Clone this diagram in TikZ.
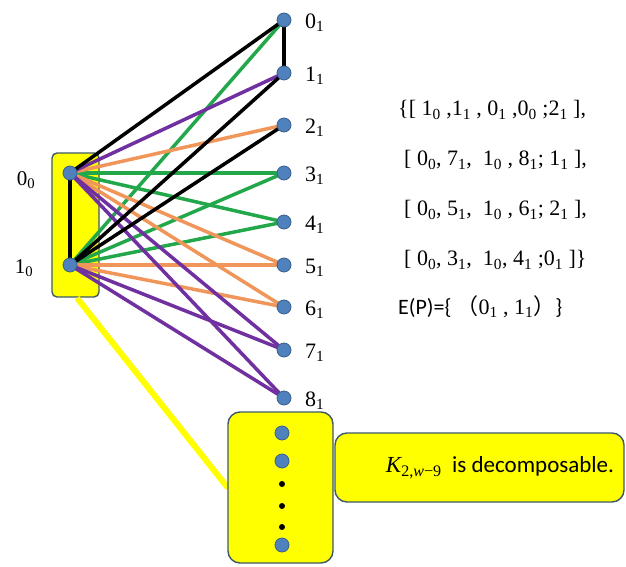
\documentclass[tikz,border=0pt]{standalone}
\usepackage{fontspec}
\setmainfont{Liberation Serif}
\newfontfamily\sansf{Carlito}
\newfontfamily\cjk{Noto Sans CJK SC}
\definecolor{gline}{RGB}{34,168,74}
\definecolor{pline}{RGB}{112,48,160}
\definecolor{oline}{RGB}{240,150,90}
\definecolor{nodefill}{RGB}{79,129,189}
\definecolor{nodeedge}{RGB}{58,95,140}
\definecolor{boxedge}{RGB}{60,90,105}
\definecolor{yel}{RGB}{255,255,0}
\newcommand\lb[2]{#1\textsubscript{#2}}
\tikzset{
  vtx/.style={circle,fill=nodefill,draw=nodeedge,line width=0.8pt,minimum size=14pt,inner sep=0pt},
  dotb/.style={circle,fill=black,minimum size=6pt,inner sep=0pt},
  ybox/.style={fill=yel,draw=boxedge,line width=1.4pt},
  edge/.style={line width=3.5pt},
  rlab/.style={anchor=west,font=\fontsize{22}{24}\selectfont,inner sep=0pt},
  llab/.style={font=\fontsize{21}{22}\selectfont,inner sep=0pt},
  ftxt/.style={anchor=west,font=\fontsize{22}{24}\selectfont,inner sep=0pt}
}
\begin{document}
\begin{tikzpicture}[x=1pt,y=-1pt]
\useasboundingbox (0,0) rectangle (626,567);
% boxes
\draw[ybox,rounded corners=5pt] (52,153) rectangle (99,297);
\draw[yel,line width=6pt] (77,298) coordinate (ya) -- (228,488) coordinate (yb);
\draw[ybox,rounded corners=12pt] (228,412) rectangle (333,563);
\draw[ybox,rounded corners=12pt] (335,433) rectangle (624,502);
\node[font=\sansf\fontsize{23}{26}\selectfont,inner sep=0pt] (kt) at (500,468) {{\rmfamily\itshape K}\textsubscript{\rmfamily 2,\itshape w\upshape −9}\ \ is decomposable.};
% vertex coordinates
\coordinate (a0) at (70,173);
\coordinate (a1) at (70,265);
\foreach \i/\y in {0/20,1/73,2/125,3/173,4/222,5/265,6/307,7/350,8/398}{
  \coordinate (b\i) at (284,\y);
}
% edges
\foreach \u/\v in {a1/b0,a0/b3,a0/b4,a1/b3,a1/b4}{\draw[edge,gline] (\u) -- (\v);}
\foreach \u/\v in {a0/b2,a0/b5,a0/b6,a1/b5,a1/b6}{\draw[edge,oline] (\u) -- (\v);}
\foreach \u/\v in {a0/b1,a0/b7,a0/b8,a1/b7,a1/b8}{\draw[edge,pline] (\u) -- (\v);}
\foreach \u/\v in {a0/b0,a1/b1,a1/b2,a0/a1,b0/b1}{\draw[edge,black] (\u) -- (\v);}
% vertices
\node[vtx] (n00) at (a0) {};
\node[vtx] (n10) at (a1) {};
\foreach \i in {0,...,8}{\node[vtx] (m\i) at (b\i) {};}
\node[vtx] (c1) at (282,433) {};
\node[vtx] (c2) at (282,461) {};
\node[dotb] (d1) at (282,484) {};
\node[dotb] (d2) at (282,506) {};
\node[dotb] (d3) at (282,527) {};
\node[vtx] (c3) at (282,545) {};
% labels
\foreach \i/\y in {0/20,1/73,2/125,3/173,4/222,5/265,6/307,7/350,8/398}{
  \node[rlab] (l\i) at (305,\y+3) {\lb{\i}{1}};
}
\node[llab] (k0) at (26,180) {\lb{0}{0}};
\node[llab] (k1) at (24,268) {\lb{1}{0}};
% formula text
\node[ftxt] (f1) at (398,110) {\{[ \lb{1}{0} ,\lb{1}{1} , \lb{0}{1} ,\lb{0}{0} ;\lb{2}{1} ],};
\node[ftxt] (f2) at (404,160) {[ \lb{0}{0}, \lb{7}{1},\ \ \lb{1}{0} , \lb{8}{1}; \lb{1}{1} ],};
\node[ftxt] (f3) at (404,210) {[ \lb{0}{0}, \lb{5}{1},\ \ \lb{1}{0} , \lb{6}{1}; \lb{2}{1} ],};
\node[ftxt] (f4) at (404,260) {[ \lb{0}{0}, \lb{3}{1},\ \ \lb{1}{0}, \lb{4}{1} ;\lb{0}{1} ]\}};
\node[ftxt] (f5) at (398,307) {{\sansf E(P)=\{ }{\cjk （}\lb{0}{1} , \lb{1}{1}{\cjk ）}{\sansf \}}};
\end{tikzpicture}
\end{document}
